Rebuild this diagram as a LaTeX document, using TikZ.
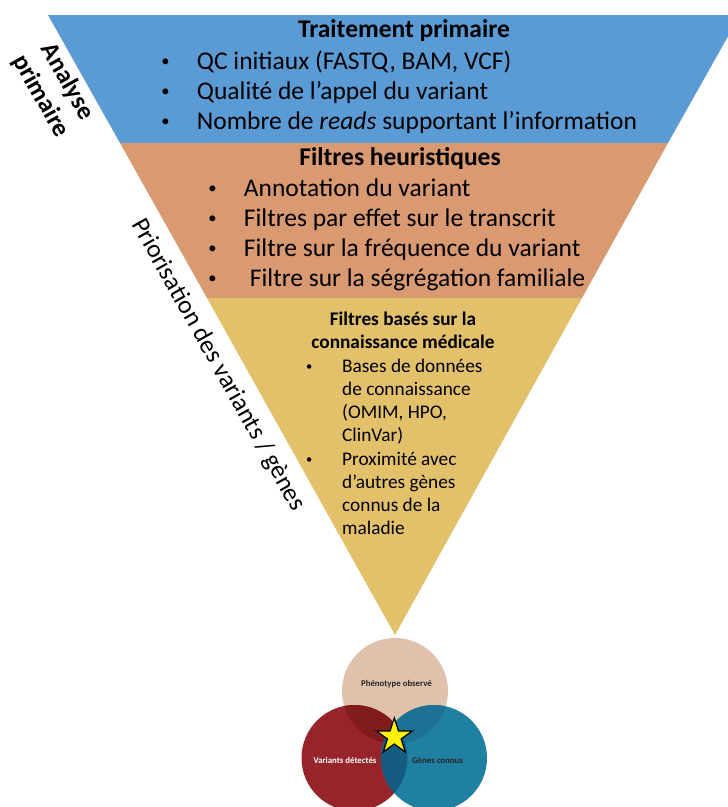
\documentclass[tikz,border=0pt]{standalone}
\usepackage{fontspec}
\usepackage{graphicx}
\setmainfont{Carlito}
\usetikzlibrary{shapes.geometric}

\definecolor{coulprim}{RGB}{91,155,213}
\definecolor{coulheur}{RGB}{217,153,113}
\definecolor{coulmed}{RGB}{227,193,107}
\definecolor{coulpheno}{RGB}{224,193,172}
\definecolor{coulvar}{RGB}{150,36,40}
\definecolor{coulgene}{RGB}{32,128,162}
\definecolor{coulvarpheno}{RGB}{128,28,28}
\definecolor{coulgenepheno}{RGB}{30,112,148}
\definecolor{coulvargene}{RGB}{22,92,128}

\newcommand{\point}{\hspace{0.1em}\raisebox{0.08em}{\scalebox{0.65}{\textbullet}}}
\newcommand{\puce}[2][38pt]{\makebox[#1][l]{\point}#2}

\begin{document}
\begin{tikzpicture}[x=1pt, y=-1pt,
    titre/.style={font=\bfseries\fontsize{25.5}{30}\selectfont, inner sep=0pt, anchor=base},
    ligne/.style={font=\fontsize{25.5}{30}\selectfont, inner sep=0pt, anchor=base west},
    soustitre/.style={font=\bfseries\fontsize{19.3}{23}\selectfont, inner sep=0pt, anchor=base},
    petit/.style={font=\fontsize{19.3}{23}\selectfont, inner sep=0pt, anchor=base west},
    cote/.style={font=\fontsize{25.5}{30}\selectfont, rotate=-60.75, align=center, inner sep=0pt},
    cercle/.style={circle, minimum size=106pt, inner sep=0pt},
    etiq/.style={font=\bfseries\fontsize{8.8}{10}\selectfont, inner sep=0pt, text=black!85}
]
\path[use as bounding box, clip] (0,0) rectangle (728,807);

% entonnoir
\fill[coulprim] (48,15) -- (740,15) -- (668,143) -- (120,143) -- cycle;
\fill[coulheur] (120,143) -- (668,143) -- (582,298) -- (207,298) -- cycle;
\fill[coulmed] (207,298) -- (582,298) -- (395,635) -- cycle;

% analyse primaire
\node[titre] (tp) at (404,37) {Traitement primaire};
\node[ligne] (qc) at (158.7,69) {\puce{QC initiaux (FASTQ, BAM, VCF)}};
\node[ligne] (appel) at (158.7,99) {\puce{Qualité de l’appel du variant}};
\node[ligne] (reads) at (158.7,129) {\puce{Nombre de \textit{reads} supportant l’information}};

% filtres heuristiques
\node[titre] (fh) at (400,165) {Filtres heuristiques};
\node[ligne] (annot) at (205.7,196) {\puce{Annotation du variant}};
\node[ligne] (effet) at (205.7,226) {\puce{Filtres par effet sur le transcrit}};
\node[ligne] (freq) at (205.7,256) {\puce{Filtre sur la fréquence du variant}};
\node[ligne] (segr) at (205.7,286) {\puce{\hspace{6pt}Filtre sur la ségrégation familiale}};

% connaissance medicale
\node[soustitre] (fm) at (403,325) {\begin{tabular}[t]{@{}c@{}}Filtres basés sur la\\connaissance médicale\end{tabular}};
\node[petit] (bdd) at (304,372) {\begin{tabular}[t]{@{}p{38pt}@{}l@{}}\point & Bases de données\\ & de connaissance\\ & (OMIM, HPO,\\ & ClinVar)\end{tabular}};
\node[petit] (prox) at (304,465) {\begin{tabular}[t]{@{}p{38pt}@{}l@{}}\point & Proximité avec\\ & d’autres gènes\\ & connus de la\\ & maladie\end{tabular}};

% cotes
\node[cote, font=\bfseries\fontsize{25.5}{30}\selectfont] (analyse) at (54,89) {Analyse\\primaire};
\node[cote] (prior) at (218,365) {Priorisation des variants / gènes};

% venn
\node[cercle, fill=coulpheno] (pheno) at (395,691) {};
\node[cercle, fill=coulvar] (var) at (354.5,758) {};
\node[cercle, fill=coulgene] (gene) at (434,758) {};
\begin{scope}
  \clip (pheno.center) circle[radius=53pt];
  \fill[coulvarpheno] (var.center) circle[radius=53pt];
  \fill[coulgenepheno] (gene.center) circle[radius=53pt];
\end{scope}
\begin{scope}
  \clip (var.center) circle[radius=53pt];
  \fill[coulvargene] (gene.center) circle[radius=53pt];
\end{scope}
\node[etiq] (lpheno) at (396.5,684) {Phénotype observé};
\node[etiq, text=white] (lvar) at (345,760) {Variants détectés};
\node[etiq] (lgene) at (437.5,760) {Gènes connus};
\node[star, star points=5, star point ratio=2.618, minimum size=37.6pt, inner sep=0pt,
      fill=yellow, draw=black, line width=1.2pt] (etoile) at (394.3,736.8) {};
\end{tikzpicture}
\end{document}
